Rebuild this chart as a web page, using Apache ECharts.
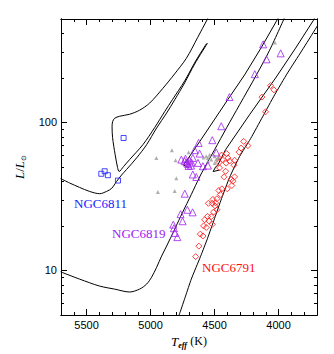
<!DOCTYPE html>
<html>
<head>
<meta charset="utf-8">
<title>HR diagram - NGC6811 / NGC6819 / NGC6791</title>
<script src="https://cdn.jsdelivr.net/npm/echarts@6.0.0/dist/echarts.min.js"></script>
<style>
  html, body { margin: 0; padding: 0; background: #fff; }
  #chart { width: 334px; height: 354px; }
</style>
</head>
<body>
<div id="chart"></div>
<script>
// axis ticks
var xMajorTicks = [4000, 4500, 5000, 5500]
var xMinorTicks = [3800, 3900, 4000, 4100, 4200, 4300, 4400, 4500, 4600, 4700, 4800, 4900,
  5000, 5100, 5200, 5300, 5400, 5500, 5600]
var yMajorTicks = [10, 100]
var yMinorTicks = [6, 7, 8, 9, 20, 30, 40, 50, 60, 70, 80, 90, 200, 300, 400]

// stars, [Teff, L/Lsun]
var ngc6811Stars = [[5211, 78.5], [5359, 46.8], [5385, 45.0], [5334, 44.0], [5255, 40.5]]

var fieldStars = [[4834, 64.8], [4955, 57.6], [4703, 63.0], [4805, 55.5], [4799, 42.0], [4943, 33.9],
  [4812, 34.4], [4029, 347], [4565, 59.1], [4539, 60.4], [4500, 59.1], [4474, 57.6], [4526, 56.1],
  [4552, 57.6], [4487, 56.1], [4552, 54.6], [4469, 58.1], [4500, 53.3], [4586, 57.9]]

var ngc6819Stars = [[4121, 337], [3984, 293], [4094, 267], [4186, 212], [4384, 148.5], [4448, 94.3],
  [4518, 75.9], [4625, 72.7], [4656, 65.0], [4617, 61.6], [4487, 62.7], [4760, 56.1], [4734, 54.8],
  [4695, 55.2], [4670, 57.6], [4707, 52.3], [4684, 51.1], [4630, 53.3], [4591, 50.6], [4552, 51.1],
  [4670, 44.5], [4643, 42.8], [4733, 33.0], [4713, 25.7], [4672, 24.7], [4766, 24.0], [4750, 21.5],
  [4823, 20.4], [4818, 19.3], [4810, 17.9], [4791, 16.8], [4719, 53.6], [4703, 50.8], [4727, 56.9],
  [4680, 53.6]]

var ngc6791Stars = [[4063, 177.4], [4037, 166], [4130, 148.3], [4102, 118], [4273, 74.5], [4240, 69.7],
  [4293, 67.1], [4309, 63.0], [4445, 60.2], [4406, 61.6], [4396, 57.6], [4383, 54.8], [4344, 55.5],
  [4440, 56.1], [4465, 53.6], [4410, 53.1], [4349, 51.4], [4414, 46.8], [4426, 42.9], [4344, 42.9],
  [4357, 40.1], [4365, 37.5], [4401, 35.6], [4443, 35.6], [4455, 32.6], [4482, 30.5], [4513, 30.2],
  [4518, 28.4], [4496, 27.3], [4482, 25.7], [4508, 24.8], [4549, 28.4], [4526, 23.1], [4555, 23.2],
  [4545, 21.6], [4578, 22.0], [4586, 20.0], [4565, 19.5], [4518, 20.5], [4612, 17.6], [4591, 17.1],
  [4623, 14.6], [4648, 12.4], [4467, 34.7], [4461, 49.3], [4370, 41.2], [4492, 28.6]]

// model curves, [Teff, L/Lsun]
var iso6811 = [[5703, 41.8], [5633, 39.0], [5555, 36.4], [5477, 34.2], [5398, 33.0], [5344, 34.2],
  [5305, 35.8], [5266, 39.9], [5227, 44.1], [5188, 48.1], [5109, 57.6], [5031, 70.8], [4953, 91.7],
  [4875, 115.7], [4812, 142.1], [4734, 185], [4656, 248], [4555, 344]]

var loop6811 = [[4548, 515], [4633, 374], [4721, 271], [4812, 213], [4904, 170], [5008, 135],
  [5086, 121], [5164, 113.6], [5242, 110.1], [5281, 106.7], [5297, 101.1], [5301, 93.6], [5297, 78.9],
  [5277, 60.6], [5258, 49.6], [5246, 46.6], [5211, 50.4], [5164, 56.1], [5060, 70.8], [4969, 92.1],
  [4891, 118], [4828, 143.2], [4734, 190.8], [4648, 260], [4563, 341]]

var rgb6819 = [[5703, 9.79], [5555, 8.74], [5398, 7.84], [5281, 7.48], [5164, 7.15], [5086, 7.48],
  [5031, 8.09], [4992, 9.01], [4953, 10.5], [4914, 12.5], [4875, 14.6], [4812, 19.0], [4750, 24.7],
  [4682, 32.6], [4617, 42.8], [4578, 49.6], [4500, 65.5], [4406, 92.1], [4305, 131.6], [4174, 209],
  [4070, 308], [3945, 531]]

var agb6819 = [[4700, 49.5], [4742, 51.5], [4617, 74.1], [4398, 142.2], [4266, 209.4], [4133, 323],
  [4008, 499], [3992, 526]]

var rgb6791 = [[4789, 4.70], [4771, 5.18], [4727, 6.71], [4682, 8.74], [4609, 12.48], [4555, 16.5],
  [4500, 22.5], [4445, 30.7], [4383, 42.5], [4305, 58.8], [4219, 77.7], [4125, 109.2], [4031, 153.6],
  [3930, 216], [3820, 304], [3703, 440.6], [3680, 476]]

var agb6791 = [[4461, 47.7], [4512, 46.6], [4492, 49.9], [4473, 51.9], [4414, 65.5], [4227, 112.7],
  [4023, 199.9], [3867, 318], [3727, 491], [3711, 522]]

var chart = echarts.init(document.getElementById('chart'), null, { renderer: 'svg' })

function plainNumber(v) {
  return String(Math.round(v))
}

function xAxisOf(position, ticks, tickLen, showLabels, extra) {
  var axis = {
    type: 'value',
    position: position,
    min: 3700,
    max: 5700,
    inverse: true,
    axisLine: { show: true, onZero: false, lineStyle: { color: '#000', width: 1 } },
    axisTick: { show: true, inside: true, length: tickLen, customValues: ticks, lineStyle: { color: '#000', width: 1 } },
    axisLabel: { show: showLabels, customValues: ticks, formatter: plainNumber, margin: 4, color: '#000', fontSize: 11, fontFamily: 'Liberation Sans' },
    splitLine: { show: false }
  }
  return Object.assign(axis, extra || {})
}

function yAxisOf(position, ticks, tickLen, showLabels, extra) {
  var axis = {
    type: 'log',
    logBase: 10,
    position: position,
    min: 5,
    max: 500,
    axisLine: { show: true, onZero: false, lineStyle: { color: '#000', width: 1 } },
    axisTick: { show: true, inside: true, length: tickLen, customValues: ticks, lineStyle: { color: '#000', width: 1 } },
    axisLabel: { show: showLabels, customValues: ticks, formatter: plainNumber, margin: 4, color: '#000', fontSize: 11, fontFamily: 'Liberation Sans' },
    splitLine: { show: false },
    minorTick: { show: false }
  }
  return Object.assign(axis, extra || {})
}

function curve(data, smooth) {
  return {
    type: 'line',
    data: data,
    showSymbol: false,
    smooth: smooth,
    clip: true,
    lineStyle: { color: '#000', width: 1 },
    z: 2
  }
}

function stars(data, symbol, size, color, filled) {
  return {
    type: 'scatter',
    data: data,
    symbol: symbol,
    symbolSize: size,
    itemStyle: filled
      ? { color: color }
      : { color: 'rgba(0,0,0,0)', borderColor: color, borderWidth: 1 },
    z: 3
  }
}

chart.setOption({
  animation: false,
  backgroundColor: '#fff',
  grid: { left: 61, top: 19, width: 256, height: 296, outerBoundsMode: 'none' },
  xAxis: [
    xAxisOf('bottom', xMajorTicks, 6, true, {
      name: '{t|T}{s|eff} {k|(K)}',
      nameLocation: 'middle',
      nameGap: 14,
      nameTextStyle: {
        rich: {
          t: { fontFamily: 'Liberation Serif', fontStyle: 'italic', fontSize: 13, lineHeight: 16, color: '#000' },
          s: { fontFamily: 'Liberation Serif', fontStyle: 'italic', fontWeight: 'bold', fontSize: 8, lineHeight: 9, verticalAlign: 'bottom', color: '#000' },
          k: { fontFamily: 'Liberation Serif', fontSize: 12, lineHeight: 16, color: '#000' }
        }
      }
    }),
    xAxisOf('bottom', xMinorTicks, 3, false),
    xAxisOf('top', xMajorTicks, 6, false),
    xAxisOf('top', xMinorTicks, 3, false)
  ],
  yAxis: [
    yAxisOf('left', yMajorTicks, 6, true, {
      name: '{l|L}{k|/}{l|L}{s|⊙}',
      nameLocation: 'middle',
      nameRotate: 90,
      nameGap: 26,
      nameTextStyle: {
        rich: {
          l: { fontFamily: 'Liberation Serif', fontStyle: 'italic', fontSize: 13, lineHeight: 16, color: '#000' },
          k: { fontFamily: 'Liberation Serif', fontSize: 13, lineHeight: 16, color: '#000' },
          s: { fontFamily: 'DejaVu Sans', fontSize: 7, lineHeight: 8, verticalAlign: 'bottom', color: '#000' }
        }
      }
    }),
    yAxisOf('left', yMinorTicks, 3, false),
    yAxisOf('right', yMajorTicks, 6, false),
    yAxisOf('right', yMinorTicks, 3, false)
  ],
  graphic: [
    { type: 'text', x: 74, y: 203, style: { text: 'NGC6811', fill: '#1a1aff', fontSize: 13, fontFamily: 'Liberation Serif', verticalAlign: 'middle' } },
    { type: 'text', x: 112, y: 233, style: { text: 'NGC6819', fill: '#a020f0', fontSize: 13, fontFamily: 'Liberation Serif', verticalAlign: 'middle' } },
    { type: 'text', x: 202, y: 267, style: { text: 'NGC6791', fill: '#ff1010', fontSize: 13, fontFamily: 'Liberation Serif', verticalAlign: 'middle' } }
  ],
  series: [
    curve(iso6811, 0.3),
    curve(loop6811, 0.3),
    curve(rgb6819, 0.3),
    curve(agb6819, false),
    curve(rgb6791, 0.2),
    curve(agb6791, false),
    stars(fieldStars, 'triangle', 4, '#9a9a9a', true),
    stars(ngc6811Stars, 'rect', 5, '#1a1aff', false),
    stars(ngc6819Stars, 'triangle', 7, '#a020f0', false),
    stars(ngc6791Stars, 'diamond', 6, '#ff1010', false)
  ]
})
</script>
</body>
</html>
